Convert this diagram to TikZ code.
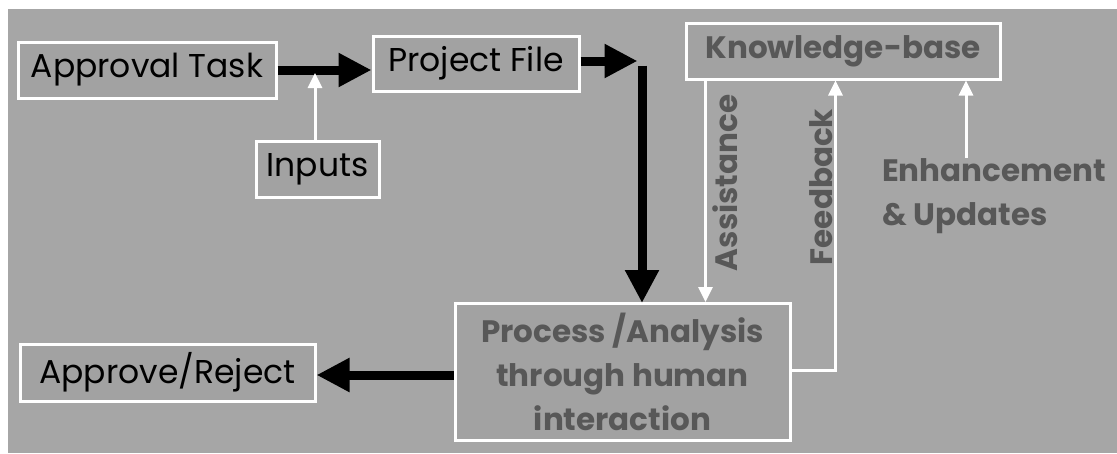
\documentclass[tikz,border=0pt]{standalone}
\usepackage{fontspec}
\setmainfont{Poppins}
\usetikzlibrary{arrows.meta}
\definecolor{bggray}{HTML}{A6A6A6}
\definecolor{boxgray}{HTML}{A2A2A2}
\definecolor{txtgray}{HTML}{585858}
\tikzset{
  box/.style={draw=white, line width=3pt, fill=boxgray, inner sep=0pt, align=center},
  blackfont/.style={text=black, font=\fontsize{33}{36}\selectfont},
  grayfont/.style={text=txtgray, font=\fontsize{31}{44}\selectfont\bfseries},
  bigarrow/.style={draw=black, line width=9pt, -{Triangle[length=33pt,width=32pt]}},
  whitearrow/.style={draw=white, line width=3pt, -{Triangle[length=15pt,width=14pt]}},
}
\begin{document}
\begin{tikzpicture}[x=1pt,y=-1pt]
\useasboundingbox (0,0) rectangle (1117,453);
\fill[white] (0,0) rectangle (1117,453);
\fill[bggray] (8,9) rectangle (1117,453);

\node[box, blackfont, minimum width=258pt, minimum height=56pt] (approval) at (147,70) {Approval Task};
\node[box, blackfont, minimum width=123pt, minimum height=56pt] (inputs) at (317.5,169) {Inputs};
\node[box, blackfont, minimum width=206pt, minimum height=55pt] (project) at (476,63.5) {Project File};
\node[box, grayfont, minimum width=314pt, minimum height=56pt] (kb) at (843,51) {Knowledge-base};
\node[box, grayfont, minimum width=335pt, minimum height=137pt] (proc) at (622.5,372) {Process /Analysis\\through human\\interaction};
\node[box, blackfont, minimum width=295pt, minimum height=57pt] (decide) at (167.5,372.5) {Approve/Reject};

\node[grayfont, anchor=north west, align=left, inner sep=0pt] (enh) at (882,158) {Enhancement\\\& Updates};
\node[grayfont, rotate=90, inner sep=0pt] (assist) at (725,183) {Assistance};
\node[grayfont, rotate=90, inner sep=0pt] (feed) at (821,187) {Feedback};

\coordinate (corner) at (642,61);

% main flow
\draw[bigarrow] (approval.east) -- (approval.east -| project.west);
\draw[whitearrow] (inputs.north -| 315,0) -- (315,73);
\draw[bigarrow] (project.east |- corner) -- ([xshift=-4.5pt]corner);
\draw[bigarrow, shorten >=-1pt] ([yshift=-4.5pt]corner) -- (corner |- proc.north);
\draw[bigarrow] (proc.west |- 0,375) -- (decide.east |- 0,375);

% knowledge-base links
\draw[whitearrow] ([xshift=21pt]kb.south west) -- ([xshift=21pt]kb.south west |- proc.north);
\draw[whitearrow] (proc.east |- 0,370) -| ([xshift=151pt]kb.south west);
\draw[whitearrow] (enh.north -| 966,0) -- (kb.south -| 966,0);
\end{tikzpicture}
\end{document}
